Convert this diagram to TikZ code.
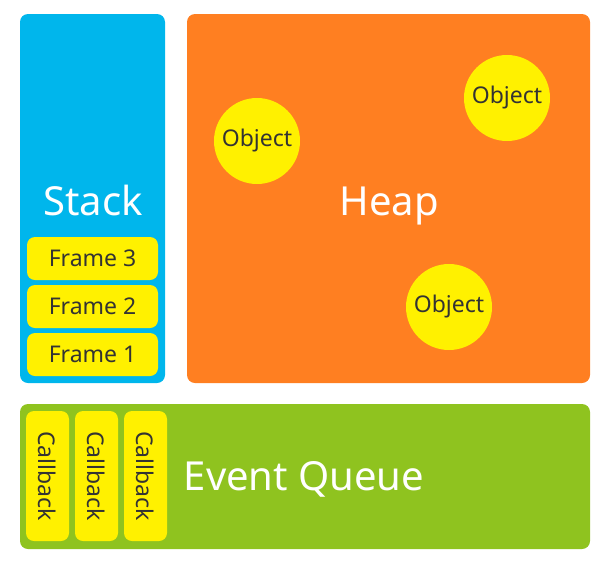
\documentclass[tikz,border=0pt]{standalone}
\usepackage{fontspec}
\setmainfont{Noto Sans}
\definecolor{stackblue}{HTML}{00B6EC}
\definecolor{heaporange}{HTML}{FF7F21}
\definecolor{queuegreen}{HTML}{8FC31F}
\definecolor{itemyellow}{HTML}{FFF100}
\definecolor{itemtext}{HTML}{333333}
\tikzset{
  region/.style={rounded corners=8pt, inner sep=0pt, draw=none},
  itemfont/.style={text=itemtext, font=\fontsize{23}{26}\selectfont},
  item/.style={fill=itemyellow, rounded corners=8pt, inner sep=0pt, itemfont},
  obj/.style={circle, fill=itemyellow, inner sep=0pt, minimum size=86pt, itemfont},
  biglabel/.style={text=white, inner sep=0pt, anchor=base, font=\fontsize{40}{46}\selectfont},
}
\begin{document}
\begin{tikzpicture}[x=1pt,y=-1pt]
\useasboundingbox (0,0) rectangle (608,566);
% regions
\node[region, fill=stackblue, minimum width=145pt, minimum height=369pt] (stack) at (92.5,198.5) {};
\node[region, fill=heaporange, minimum width=403pt, minimum height=369pt] (heap) at (388.5,198.5) {};
\node[region, fill=queuegreen, minimum width=570pt, minimum height=145pt] (queue) at (305,476.5) {};
% labels
\node[biglabel] (stacklbl) at (93,215) {Stack};
\node[biglabel] (heaplbl) at (389,215) {Heap};
\node[biglabel] (queuelbl) at (304,490) {Event Queue};
% frames
\node[item, minimum width=131pt, minimum height=43pt] (f3) at (92.5,258.5) {Frame 3};
\node[item, minimum width=131pt, minimum height=43pt] (f2) at (92.5,306.5) {Frame 2};
\node[item, minimum width=131pt, minimum height=43pt] (f1) at (92.5,354.5) {Frame 1};
% callbacks
\node[item, minimum width=43pt, minimum height=130pt] (c1) at (47.5,476) {};
\node[item, minimum width=43pt, minimum height=130pt] (c2) at (96.5,476) {};
\node[item, minimum width=43pt, minimum height=130pt] (c3) at (145.5,476) {};
\node[rotate=-90, itemfont] (c1t) at (c1) {Callback};
\node[rotate=-90, itemfont] (c2t) at (c2) {Callback};
\node[rotate=-90, itemfont] (c3t) at (c3) {Callback};
% objects
\node[obj] (o1) at (257,141) {Object};
\node[obj] (o2) at (507,98) {Object};
\node[obj] (o3) at (449,307) {Object};
\end{tikzpicture}
\end{document}
